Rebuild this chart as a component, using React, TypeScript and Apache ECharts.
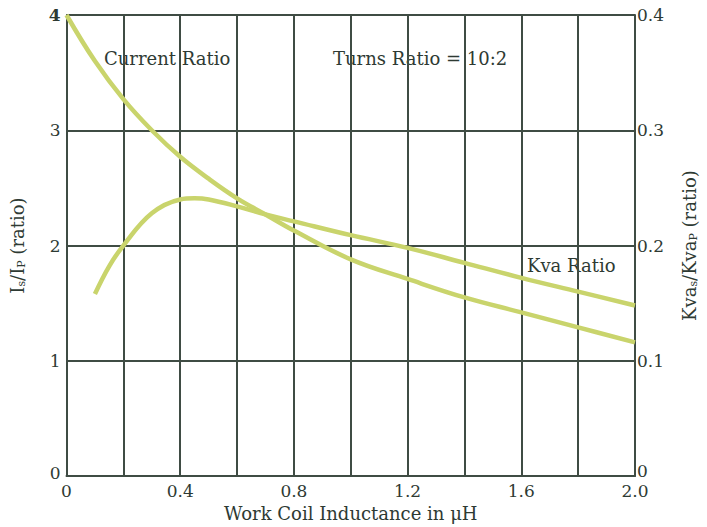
import React, { useEffect, useRef } from "react";
import * as echarts from "echarts";

const inductance = [0, 0.1, 0.2, 0.3, 0.4, 0.5, 0.6, 0.7, 0.8, 1.0, 1.2, 1.4, 1.6, 1.8, 2.0];
const currentRatio = [4.0, 3.6, 3.27, 3.0, 2.77, 2.58, 2.41, 2.27, 2.13, 1.88, 1.71, 1.55, 1.42, 1.29, 1.16];

const kvaInductance = [0.1, 0.15, 0.2, 0.3, 0.4, 0.45, 0.5, 0.6, 0.7, 0.8, 1.0, 1.2, 1.4, 1.6, 1.8, 2.0];
const kvaRatio = [0.158, 0.182, 0.2, 0.228, 0.24, 0.241, 0.24, 0.234, 0.227, 0.221, 0.209, 0.198, 0.185, 0.172, 0.16, 0.148];

const xLabels = ["0", "0.4", "0.8", "1.2", "1.6", "2.0"];
const leftLabels = ["0", "1", "2", "3", "4"];
const rightLabels = ["0", "0.1", "0.2", "0.3", "0.4"];

const INK = "#2e3a33";
const GRID = "#3f4c44";
const CURVE = "#c9d46c";
const FONT = "'DejaVu Serif', 'Liberation Serif', serif";

export default function App() {
  const ref = useRef<HTMLDivElement>(null);
  useEffect(() => {
    if (!ref.current) return;
    document.body.style.margin = "0";
    document.body.style.overflow = "hidden";
    const chart = echarts.init(ref.current, null, { renderer: "svg" });
    const fmtX = (v: number) => {
      const s = v === 0 ? "0" : v.toFixed(1);
      return xLabels.includes(s) ? s : "";
    };
    chart.setOption({
      animation: false,
      backgroundColor: "#ffffff",
      textStyle: { fontFamily: FONT },
      grid: { left: 66, right: 65, top: 15, bottom: 46, containLabel: false },
      xAxis: {
        type: "value",
        min: 0,
        max: 2.0,
        interval: 0.2,
        axisLine: { show: true, lineStyle: { color: GRID, width: 2 } },
        axisTick: { show: false },
        splitLine: { show: true, lineStyle: { color: GRID, width: 2 } },
        axisLabel: {
          formatter: fmtX,
          color: INK,
          fontSize: 17,
          fontFamily: FONT,
          margin: 6,
        },
        name: "Work Coil Inductance in \u03bcH",
        nameLocation: "middle",
        nameGap: 25,
        nameTextStyle: { color: INK, fontSize: 18, fontFamily: FONT },
      },
      yAxis: [
        {
          type: "value",
          min: 0,
          max: 4,
          interval: 1,
          position: "left",
          axisLine: { show: true, lineStyle: { color: GRID, width: 2 } },
          axisTick: { show: false },
          splitLine: { show: true, lineStyle: { color: GRID, width: 2 } },
          axisLabel: {
            formatter: (v: number) => {
              const s = leftLabels[Math.round(v)] ?? "";
              if (s === "4") return "{b|4}";
              if (s === "0") return "{z|0}";
              return s;
            },
            color: INK,
            fontSize: 17,
            fontFamily: FONT,
            margin: 6,
            rich: {
              b: { fontSize: 17, fontWeight: "bold", color: INK, fontFamily: FONT },
              z: { fontSize: 17, color: INK, fontFamily: FONT, padding: [0, 0, 7, 0] },
            },
          },
          name: "{a|I}{s|s}{a|/I}{s|P}{a| (ratio)}",
          nameLocation: "middle",
          nameRotate: 90,
          nameGap: 40,
          nameTextStyle: {
            color: INK,
            fontFamily: FONT,
            rich: {
              a: { fontSize: 18, color: INK, fontFamily: FONT },
              s: { fontSize: 11, color: INK, fontFamily: FONT, verticalAlign: "bottom", padding: [8, 0, 0, 0] },
            },
          },
        },
        {
          type: "value",
          min: 0,
          max: 0.4,
          interval: 0.1,
          position: "right",
          axisLine: { show: true, lineStyle: { color: GRID, width: 2 } },
          axisTick: { show: false },
          splitLine: { show: false },
          axisLabel: {
            formatter: (v: number) => {
              const s = rightLabels[Math.round(v * 10)] ?? "";
              return s === "0" ? "{z|0}" : s;
            },
            color: INK,
            fontSize: 17,
            fontFamily: FONT,
            margin: 2,
            rich: {
              z: { fontSize: 17, lineHeight: 13, color: INK, fontFamily: FONT, padding: [0, 0, 10, 0] },
            },
          },
          name: "{a|Kva}{s|s}{a|/Kva}{s|P}{a| (ratio)}",
          nameLocation: "middle",
          nameRotate: 90,
          nameGap: 45,
          nameTextStyle: {
            color: INK,
            fontFamily: FONT,
            rich: {
              a: { fontSize: 18, color: INK, fontFamily: FONT },
              s: { fontSize: 11, color: INK, fontFamily: FONT, verticalAlign: "bottom", padding: [8, 0, 0, 0] },
            },
          },
        },
      ],
      series: [
        {
          name: "Current Ratio",
          type: "line",
          yAxisIndex: 0,
          smooth: 0.4,
          showSymbol: false,
          data: inductance.map((x, i) => [x, currentRatio[i]]),
          lineStyle: { color: CURVE, width: 4.5 },
        },
        {
          name: "Kva Ratio",
          type: "line",
          yAxisIndex: 1,
          smooth: 0.4,
          showSymbol: false,
          data: kvaInductance.map((x, i) => [x, kvaRatio[i]]),
          lineStyle: { color: CURVE, width: 4.5 },
        },
      ],
      graphic: [
        {
          type: "text",
          left: 104,
          top: 49,
          style: { text: "Current Ratio", fill: INK, fontSize: 18, fontFamily: FONT, backgroundColor: "#ffffff" },
        },
        {
          type: "text",
          left: 333,
          top: 49,
          style: { text: "Turns Ratio = 10:2", fill: INK, fontSize: 18, fontFamily: FONT, backgroundColor: "#ffffff" },
        },
        {
          type: "text",
          left: 527,
          top: 256,
          style: { text: "Kva Ratio", fill: INK, fontSize: 18, fontFamily: FONT },
        },
      ],
    });
    return () => chart.dispose();
  }, []);
  return <div ref={ref} style={{ position: "fixed", left: 0, top: 0, width: 707, height: 527 }} />;
}
